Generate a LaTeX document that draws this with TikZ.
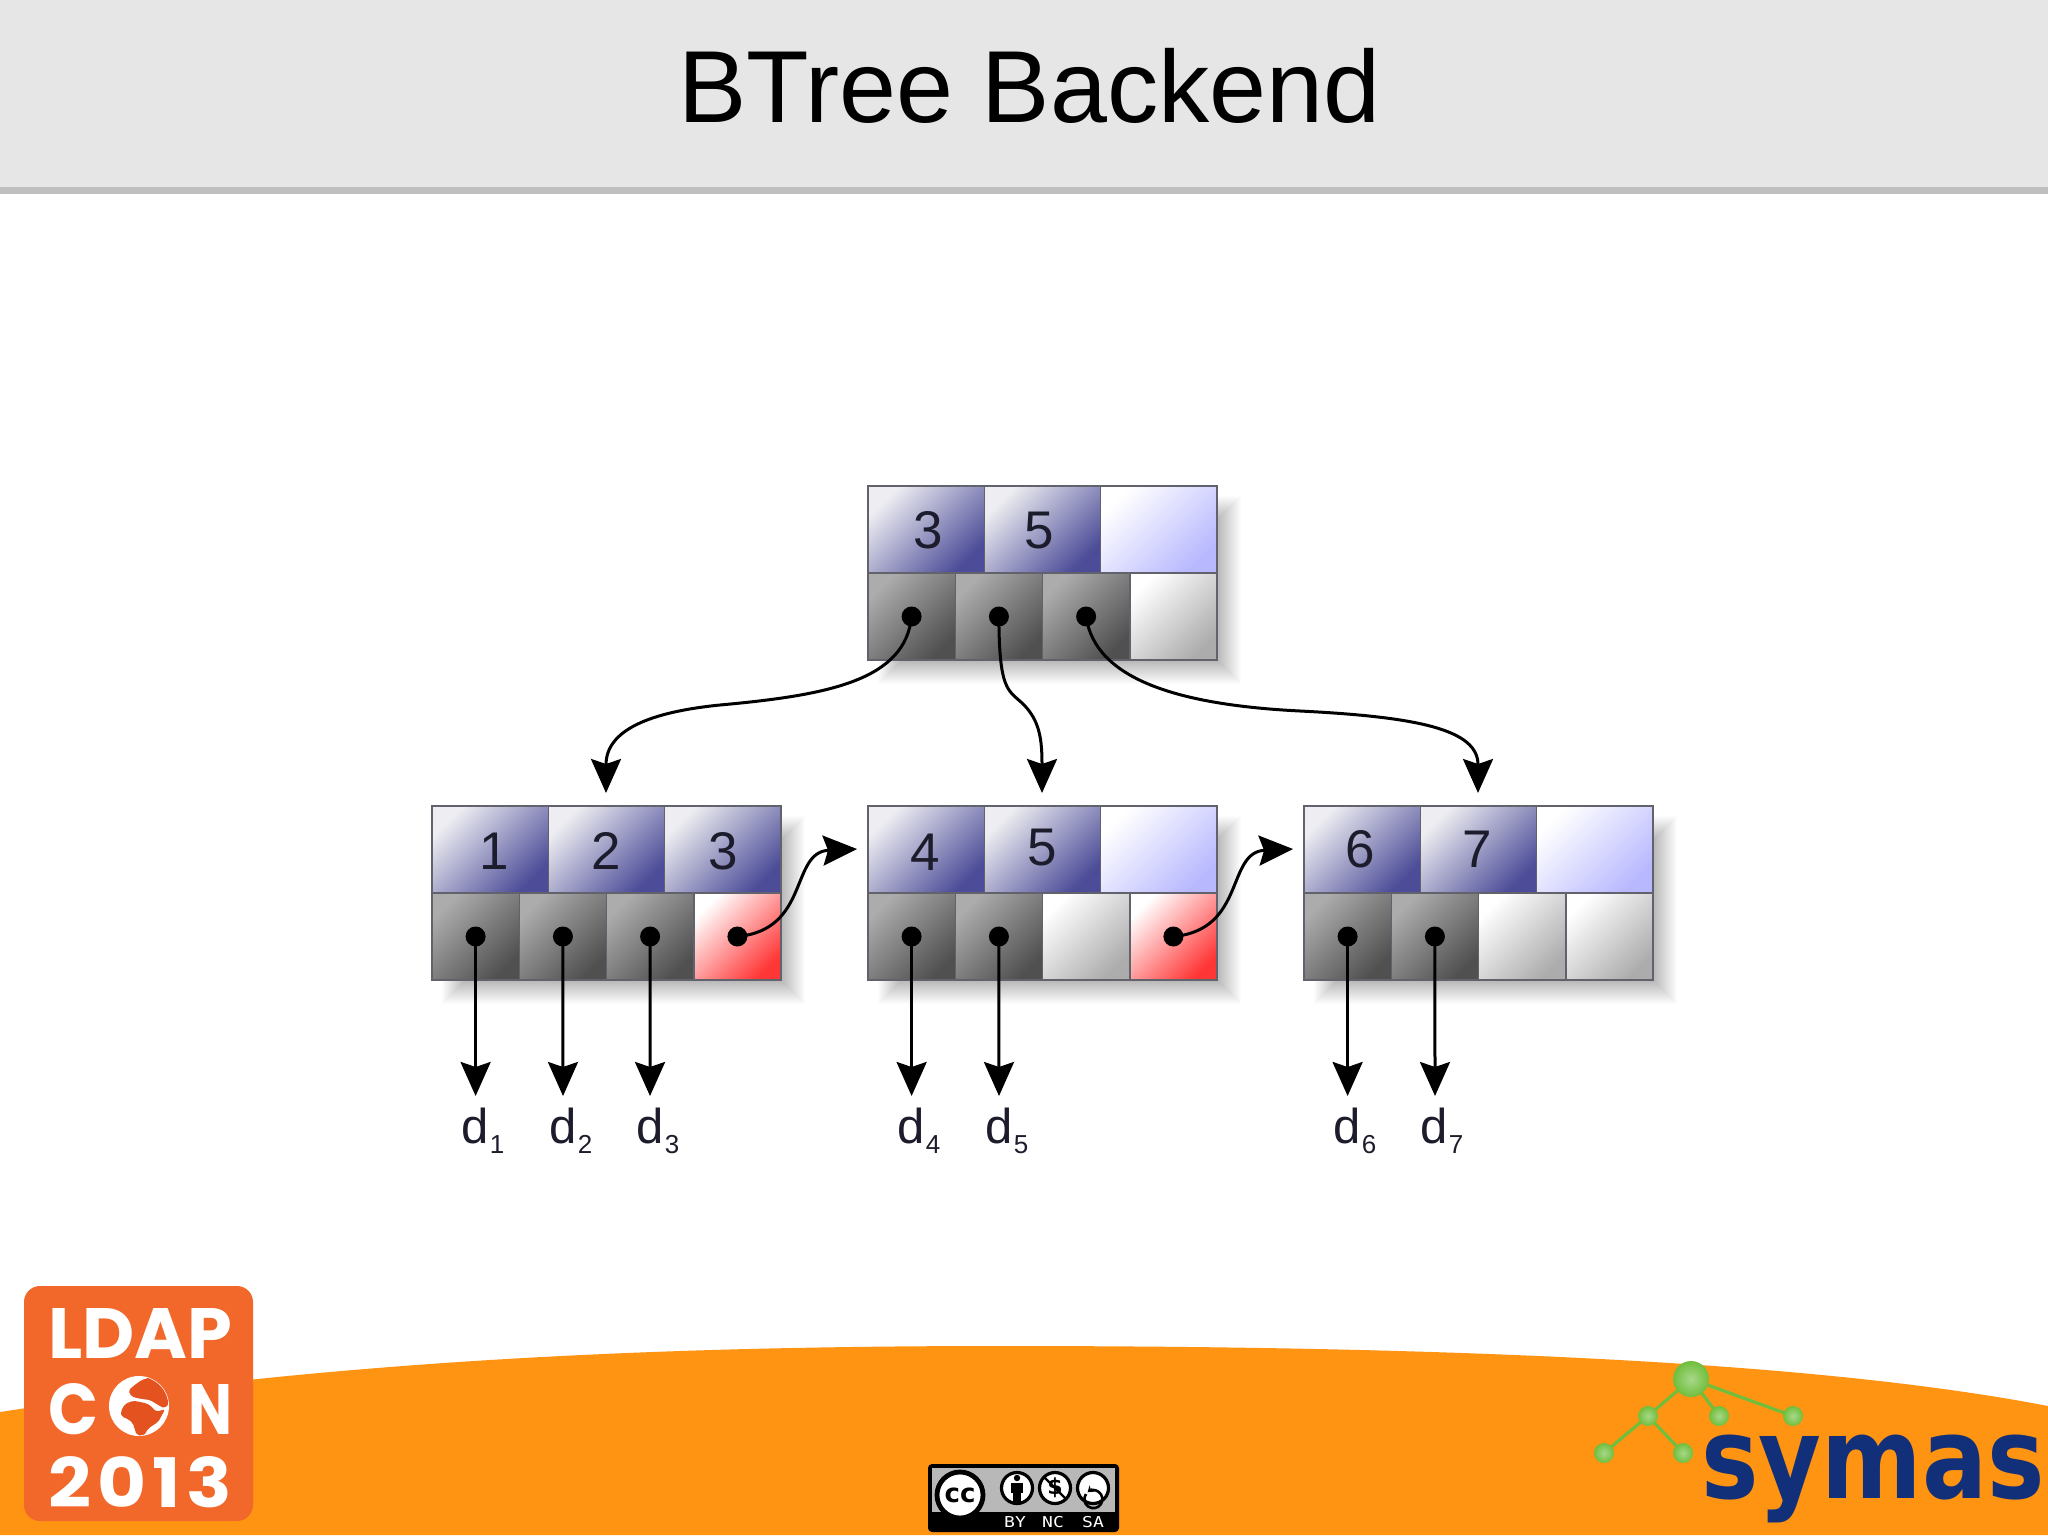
\documentclass[tikz,border=0pt]{standalone}
\usepackage{fontspec}
\usepackage{graphicx}
\usetikzlibrary{arrows.meta}
\setmainfont{Liberation Sans}
\newfontfamily\logofont{Poppins}
\newfontfamily\symasfont{DejaVu Sans}
\newfontfamily\ccfont{DejaVu Sans Mono}
\definecolor{hdr}{HTML}{E6E6E6}
\definecolor{hdrline}{HTML}{BFBFBF}
\definecolor{swoosh}{HTML}{FF9412}
\definecolor{logoor}{HTML}{F2682B}
\definecolor{globeor}{HTML}{E4521F}
\definecolor{symasblue}{HTML}{12307A}
\definecolor{ballg}{HTML}{70BE3C}
\definecolor{cellline}{HTML}{62626C}
\definecolor{dtext}{HTML}{1C1C2C}
\definecolor{BlueA}{HTML}{EEEEF2}
\definecolor{BlueB}{HTML}{4C4C98}
\definecolor{BlueC}{HTML}{B8B8FF}
\definecolor{GrayA}{HTML}{ACACAC}
\definecolor{GrayB}{HTML}{505050}
\definecolor{GrayC}{HTML}{ACACAC}
\definecolor{RedA}{HTML}{FF3636}
\definecolor{BallIn}{HTML}{A8D88A}
\tikzset{
  x=0.5pt,y=-0.5pt,
  cellbase/.style={draw=cellline,line width=0.7pt,rectangle,inner sep=0pt,outer sep=0pt},
  keyfull/.style={cellbase,minimum width=58.17pt,minimum height=43.5pt,left color=BlueA,right color=BlueB,shading angle=45},
  keyempty/.style={cellbase,minimum width=58.17pt,minimum height=43.5pt,left color=white,right color=BlueC,shading angle=45},
  ptrfull/.style={cellbase,minimum width=43.6pt,minimum height=43.5pt,left color=GrayA,right color=GrayB,shading angle=45},
  ptrempty/.style={cellbase,minimum width=43.6pt,minimum height=43.5pt,left color=white,right color=GrayC,shading angle=45},
  ptrred/.style={cellbase,minimum width=43.6pt,minimum height=43.5pt,left color=white,right color=RedA,shading angle=45},
  dotnode/.style={circle,fill=black,inner sep=0pt,minimum size=10pt,outer sep=0pt},
  arrowline/.style={draw=black,line width=1.5pt,-{Stealth[length=17pt,width=15pt,inset=2.5pt]}},
  digit/.style={anchor=base,inner sep=0pt,text=dtext,font=\fontsize{26.5}{28}\selectfont},
  dlabel/.style={anchor=base west,inner sep=0pt,text=dtext,font=\fontsize{24.5}{26}\selectfont},
  ball/.style={circle,inner sep=0pt,minimum size=10pt,inner color=BallIn,outer color=ballg},
  greenline/.style={draw=ballg,line width=1.6pt},
  ccring/.style={circle,fill=white,draw=black,line width=1.6pt,minimum size=15.5pt,inner sep=0pt},
  cctext/.style={inner sep=0pt,text=white,font=\ccfont\fontsize{7.5}{8}\selectfont},
}
% \btnode{prefix}{left x}{top y}{style k3}{p3}{p4}
\newcommand{\btnode}[6]{%
  \foreach \i in {0,...,26}{\fill[black,opacity=.013] (#2+36-\i,#3+36-\i) rectangle (#2+349-2+\i,#3+174-2+\i);}
  \node[keyfull] (#1k1) at (#2+58.2,#3+43.5) {};
  \node[keyfull] (#1k2) at (#2+174.5,#3+43.5) {};
  \node[#4] (#1k3) at (#2+290.8,#3+43.5) {};
  \node[ptrfull] (#1p1) at (#2+43.6,#3+130.5) {};
  \node[ptrfull] (#1p2) at (#2+130.9,#3+130.5) {};
  \node[#5] (#1p3) at (#2+218.1,#3+130.5) {};
  \node[#6] (#1p4) at (#2+305.4,#3+130.5) {};
}
\newcommand{\dlab}[3]{\node[dlabel] (#1) at (#2,1143) {d\hspace{0.6pt}\raisebox{-5pt}{\fontsize{13}{14}\selectfont #3}};}
\begin{document}
\begin{tikzpicture}
\useasboundingbox (0,0) rectangle (2048,1535);
\fill[white] (0,0) rectangle (2048,1535);
% header
\fill[hdr] (0,0) rectangle (2048,187);
\fill[hdrline] (0,187) rectangle (2048,194);
\node[anchor=base,inner sep=0pt,text=black,font=\fontsize{51.2}{53}\selectfont] (title) at (1029.5,123) {BTree Backend};
% footer swoosh
\fill[swoosh] (0,1412) .. controls (300,1366) and (600,1346) .. (1000,1346) .. controls (1400,1346) and (1800,1358) .. (2048,1406) -- (2048,1535) -- (0,1535) -- cycle;
% btree nodes
\btnode{r}{868}{486}{keyempty}{ptrfull}{ptrempty}
\btnode{a}{432}{806}{keyfull}{ptrfull}{ptrred}
\btnode{b}{868}{806}{keyempty}{ptrempty}{ptrred}
\btnode{c}{1304}{806}{keyempty}{ptrempty}{ptrempty}
% digits
\node[digit] (t1) at (928,548) {3};
\node[digit] (t2) at (1039,548) {5};
\node[digit] (t3) at (494,869) {1};
\node[digit] (t4) at (606,869) {2};
\node[digit] (t5) at (723,869) {3};
\node[digit] (t6) at (925,870) {4};
\node[digit] (t7) at (1042,865) {5};
\node[digit] (t8) at (1360,867) {6};
\node[digit] (t9) at (1477,867) {7};
% dots
\foreach \n in {rp1,rp2,rp3,ap1,ap2,ap3,ap4,bp1,bp2,bp4,cp1,cp2}{\node[dotnode] (dot\n) at (\n.center) {};}
% d labels and anchors
\dlab{d1}{461}{1}\dlab{d2}{549}{2}\dlab{d3}{636}{3}
\dlab{d4}{897}{4}\dlab{d5}{985}{5}
\dlab{d6}{1333}{6}\dlab{d7}{1420}{7}
\coordinate (e1) at (475.6,1096);\coordinate (e2) at (563,1096);\coordinate (e3) at (650,1096);
\coordinate (e4) at (911.6,1096);\coordinate (e5) at (999,1096);
\coordinate (e6) at (1347.6,1096);\coordinate (e7) at (1435,1096);
\coordinate (ea) at (606,793);\coordinate (eb) at (1042,793);\coordinate (ec) at (1478,793);
\coordinate (sa) at (857,849);\coordinate (sb) at (1293,849);
% arrows
\foreach \p/\q in {dotap1/e1,dotap2/e2,dotap3/e3,dotbp1/e4,dotbp2/e5,dotcp1/e6,dotcp2/e7}{\draw[arrowline] (\p.center) -- (\q);}
\draw[arrowline] (dotrp1.center) .. controls (905,680) and (830,695) .. (720,705) .. controls (650,712) and (606,730) .. (ea);
\draw[arrowline] (dotrp2.center) .. controls (999,690) and (1008,690) .. (1022,703) .. controls (1040,720) and (1042,740) .. (eb);
\draw[arrowline] (dotrp3.center) .. controls (1095,680) and (1180,705) .. (1300,711) .. controls (1420,717) and (1478,730) .. (ec);
\draw[arrowline] (dotap4.center) .. controls (810,930) and (790,852) .. (sa);
\draw[arrowline] (dotbp4.center) .. controls (1246,930) and (1226,852) .. (sb);
% LDAPCON logo
\fill[logoor,rounded corners=8pt] (24,1286) rectangle (253,1521);
\node[anchor=base west,inner sep=0pt,text=white] (lg1) at (48,1358) {\resizebox{92pt}{25pt}{\logofont\bfseries LDAP}};
\node[anchor=base west,inner sep=0pt,text=white] (lg2) at (48,1434) {\resizebox{25pt}{25.5pt}{\logofont\bfseries C}};
\node[anchor=base west,inner sep=0pt,text=white] (lg3) at (188,1434) {\resizebox{22pt}{25pt}{\logofont\bfseries N}};
\node[anchor=base west,inner sep=0pt,text=white] (lg4) at (48,1507) {\resizebox{92pt}{25.5pt}{\logofont\bfseries\addfontfeature{LetterSpace=8}2013}};
\fill[white] (139,1406) circle[radius=30];
\begin{scope}[yshift=-630pt,x=0.16667pt,y=-0.16667pt]
\clip (417,438) circle[radius=88];
\fill[globeor,rounded corners=1pt] (362,455) -- (375,432) -- (400,422) -- (440,430) -- (455,440) -- (468,455) -- (495,448) -- (475,485) -- (445,505) -- (432,527) -- (410,525) -- (398,488) -- (380,475) -- (365,470) -- cycle;
\fill[globeor,rounded corners=1pt] (400,378) -- (425,360) -- (450,352) -- (485,368) -- (505,400) -- (507,432) -- (492,445) -- (470,432) -- (450,420) -- (420,416) -- (395,410) -- (385,392) -- cycle;
\end{scope}
% symas logo
\coordinate (cb0) at (1691,1379);
\coordinate (cb1) at (1648,1416);
\coordinate (cb2) at (1719,1416);
\coordinate (cb3) at (1793,1416);
\coordinate (cb4) at (1604,1453);
\coordinate (cb5) at (1683,1453);
\draw[greenline] (cb0) -- (cb1) -- (cb4) (cb1) -- (cb5) (cb0) -- (cb2) (cb0) -- (cb3);
\node[ball,minimum size=18pt] (ball0) at (cb0) {};
\node[ball] (ball1) at (cb1) {};
\node[ball] (ball2) at (cb2) {};
\node[ball] (ball3) at (cb3) {};
\node[ball] (ball4) at (cb4) {};
\node[ball] (ball5) at (cb5) {};
\node[anchor=base west,inner sep=0pt,text=symasblue] (symas) at (1701,1498) {\scalebox{.91}[1.07]{\symasfont\bfseries\fontsize{53}{55}\selectfont symas}};
% cc badge
\fill[black,rounded corners=2pt] (928,1464) rectangle (1119,1532);
\fill[black!28] (932,1468) rectangle (1115,1512);
\node[circle,fill=white,draw=black,line width=2.4pt,minimum size=23pt,inner sep=0pt,font=\symasfont\bfseries\fontsize{13}{13}\selectfont,text=black] (cc) at (960,1495) {cc};
\node[ccring] (by) at (1017,1488) {};
\fill[black] (1017,1478) circle[radius=3.2];
\fill[black] (1011,1483) rectangle (1023,1493);
\fill[black] (1013,1493) rectangle (1021,1502);
\node[ccring,font=\symasfont\bfseries\fontsize{11}{11}\selectfont,text=black] (nc) at (1055,1488) {\$};
\draw[black,line width=1.2pt] (1044,1477) -- (1066,1499);
\node[ccring] (sac) at (1093,1488) {};
\draw[black,line width=1.3pt,-{Stealth[length=3pt,width=4pt]}] (1086,1494) arc[start angle=215,end angle=-130,radius=9];
\node[cctext] (tby) at (1015,1522) {\scalebox{1.2}[1]{BY}};
\node[cctext] (tnc) at (1053,1522) {\scalebox{1.2}[1]{NC}};
\node[cctext] (tsa) at (1093,1522) {\scalebox{1.2}[1]{SA}};
\end{tikzpicture}
\end{document}
